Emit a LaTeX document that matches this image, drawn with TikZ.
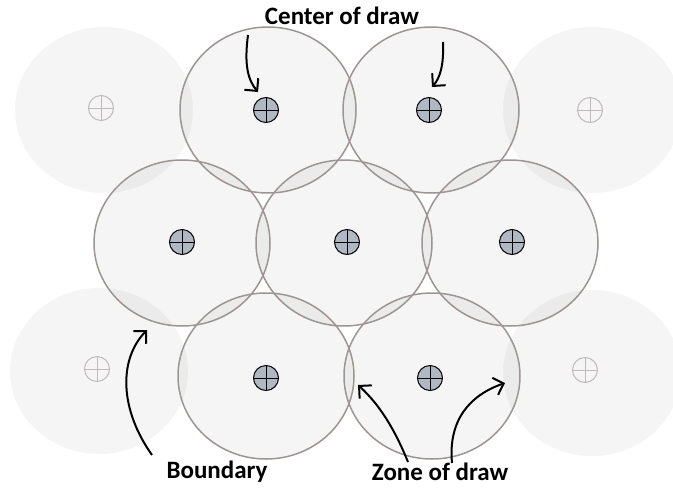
\documentclass[tikz,border=0pt]{standalone}
\usepackage{fontspec}
\setmainfont{Carlito}
\usetikzlibrary{arrows.meta}
\definecolor{zoneline}{RGB}{158,148,148}
\definecolor{markfill}{RGB}{176,184,196}
\definecolor{markfade}{RGB}{192,186,186}
\tikzset{
  zonefill/.style={fill=black,fill opacity=0.04},
  zoneedge/.style={draw=zoneline,line width=1.5pt},
  centermark/.style={circle,draw=black,line width=1pt,fill=markfill,minimum size=25pt,inner sep=0pt,
    path picture={\draw[black,line width=1pt] (path picture bounding box.north) -- (path picture bounding box.south)
      (path picture bounding box.west) -- (path picture bounding box.east);}},
  fademark/.style={circle,draw=markfade,line width=1pt,minimum size=25pt,inner sep=0pt,
    path picture={\draw[markfade,line width=1pt] (path picture bounding box.north) -- (path picture bounding box.south)
      (path picture bounding box.west) -- (path picture bounding box.east);}},
  lbl/.style={font=\fontsize{25}{29}\selectfont\bfseries,inner sep=0pt},
  arr/.style={-{Straight Barb[length=9pt,width=18pt]},line width=2pt}
}
\begin{document}
\begin{tikzpicture}[x=1pt,y=-1pt]
\useasboundingbox (0,0) rectangle (673,488);
% faded outer zones
\fill[zonefill] (104,110) ellipse (89 and 83);
\fill[zonefill] (592,110) ellipse (89 and 83);
\fill[zonefill] (99,371) ellipse (89 and 83);
\fill[zonefill] (592,373) ellipse (89 and 83);
% zones of draw
\foreach \cx/\cy in {268/110,431/110,182/243,344/243,510/243,266/376,432/376}
  \fill[zonefill] (\cx,\cy) ellipse (88 and 83);
\foreach \cx/\cy in {268/110,431/110,182/243,344/243,510/243,266/376,432/376}
  \draw[zoneedge] (\cx,\cy) ellipse (88 and 83);
% centers
\node[fademark] (f1) at (101,108) {};
\node[fademark] (f2) at (590,110) {};
\node[fademark] (f3) at (97,369) {};
\node[fademark] (f4) at (585,370) {};
\node[centermark] (c1) at (266,110) {};
\node[centermark] (c2) at (429,110) {};
\node[centermark] (c3) at (182,242) {};
\node[centermark] (c4) at (347,242) {};
\node[centermark] (c5) at (512,242) {};
\node[centermark] (c6) at (266,378) {};
\node[centermark] (c7) at (430,378) {};
% labels
\node[lbl] (cod) at (342,16) {Center of draw};
\node[lbl] (bnd) at (217,472) {Boundary};
\node[lbl] (zod) at (440,472) {Zone of draw};
% arrow ends
\coordinate (a1s) at (248,35);  \coordinate (a1e) at (258,92);
\coordinate (a2s) at (443,42);  \coordinate (a2e) at (432,87);
\coordinate (b1s) at (152,455); \coordinate (b1e) at (147,330);
\coordinate (z1s) at (408,462); \coordinate (z1e) at (358,385);
\coordinate (z2s) at (452,463); \coordinate (z2e) at (505,383);
\draw[arr] (a1s) .. controls (244,65) and (248,80) .. (a1e);
\draw[arr] (a2s) .. controls (444,65) and (440,78) .. (a2e);
\draw[arr] (b1s) .. controls (120,410) and (118,360) .. (b1e);
\draw[arr] (z1s) .. controls (395,430) and (380,405) .. (z1e);
\draw[arr] (z2s) .. controls (448,420) and (470,395) .. (z2e);
\end{tikzpicture}
\end{document}
